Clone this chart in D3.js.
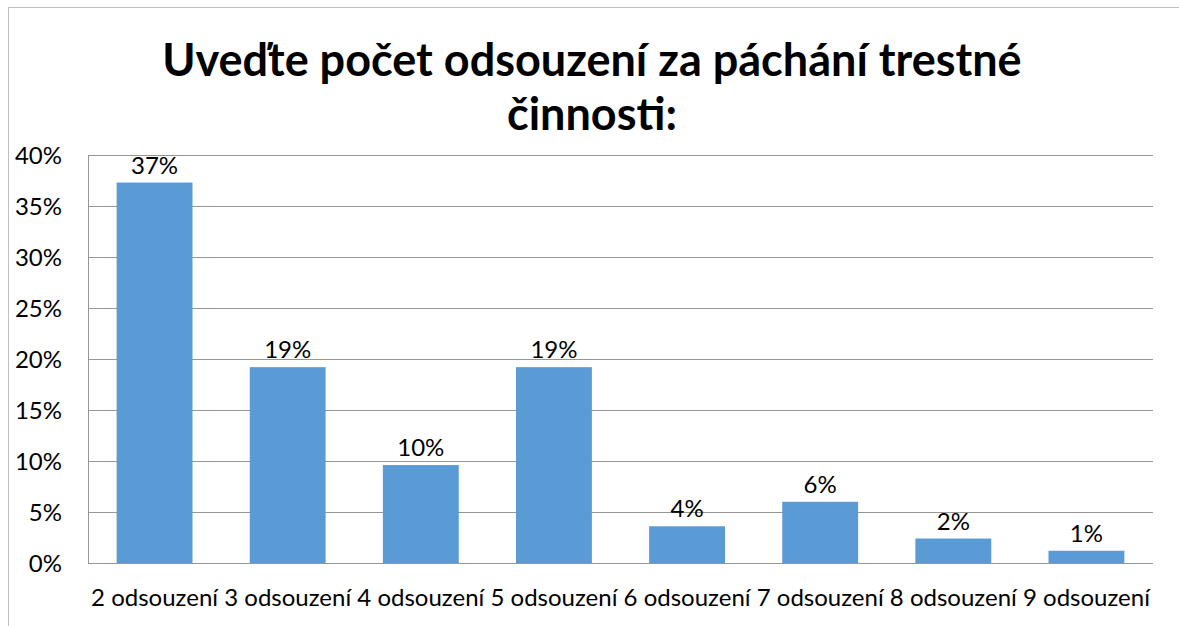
<!DOCTYPE html>
<html>
<head>
<meta charset="UTF-8">
<title>Počet odsouzení</title>
<script src="https://cdn.jsdelivr.net/npm/d3@7/dist/d3.min.js"></script>
<style type="text/css">
body, html {
    margin: 0;
    padding: 0;
    background: #fff;
}
.chart text {
    font-family: Lato, "Liberation Sans", Arial, sans-serif;
    fill: #000;
}
.axis path, .axis line {
    fill: none;
    stroke: #969696;
    shape-rendering: crispEdges;
}
</style>
</head>
<body>
<div class="chart"></div>

<script type="text/javascript">
var categories = ["2 odsouzení", "3 odsouzení", "4 odsouzení", "5 odsouzení",
                  "6 odsouzení", "7 odsouzení", "8 odsouzení", "9 odsouzení"];
var shares     = [0.373, 0.192, 0.096, 0.192, 0.036, 0.060, 0.024, 0.012];
var shareLabels = ["37%", "19%", "10%", "19%", "4%", "6%", "2%", "1%"];
var yTicks     = [0, 0.05, 0.10, 0.15, 0.20, 0.25, 0.30, 0.35, 0.40];
var titleLines = ["Uveďte počet odsouzení za páchání trestné", "činnosti:"];

var W = 1179, H = 626;
var margin = {top: 155, right: 26, bottom: 63, left: 88},
    width  = W - margin.left - margin.right,
    height = H - margin.top - margin.bottom;

var svg = d3.select(".chart")
    .append("svg")
    .attr("width", W)
    .attr("height", H);

// outer frame (cut off right and bottom)
svg.append("rect")
    .attr("x", 8.5)
    .attr("y", 7.5)
    .attr("width", W + 10)
    .attr("height", H + 10)
    .attr("fill", "none")
    .attr("stroke", "#bfbfbf");

// title
var title = svg.append("text")
    .attr("text-anchor", "middle")
    .style("font-weight", "bold")
    .style("font-size", "45px");
title.selectAll("tspan")
    .data(titleLines)
    .enter()
    .append("tspan")
    .attr("x", 592)
    .attr("y", function (d, i) { return 76 + i * 54; })
    .text(function (d) { return d; });

var g = svg.append("g")
    .attr("transform", "translate(" + margin.left + "," + margin.top + ")");

var x = d3.scaleBand()
    .domain(categories)
    .range([0, width])
    .paddingInner(0.43)
    .paddingOuter(0.215);

var y = d3.scaleLinear()
    .domain([0, 0.4])
    .range([height, 0]);

// gridlines
g.append("g")
    .attr("class", "axis grid")
    .call(d3.axisLeft(y).tickValues(yTicks).tickSize(-width).tickFormat(""))
    .call(function (s) { s.select(".domain").remove(); });

// y axis
g.append("g")
    .attr("class", "axis y")
    .call(d3.axisLeft(y).tickValues(yTicks).tickSize(0).tickPadding(26)
        .tickFormat(d3.format(".0%")))
    .selectAll("text")
    .style("font-size", "24px")
    .attr("dy", "0.35em");

// bars
g.selectAll(".bar")
    .data(shares)
    .enter()
    .append("rect")
    .attr("class", "bar")
    .attr("fill", "#5b9bd5")
    .attr("x", function (d, i) { return x(categories[i]); })
    .attr("width", x.bandwidth())
    .attr("y", function (d) { return y(d); })
    .attr("height", function (d) { return height - y(d); });

// x axis (drawn after bars so the baseline sits on top)
var xg = g.append("g")
    .attr("class", "axis x")
    .attr("transform", "translate(0," + height + ")")
    .call(d3.axisBottom(x).tickSize(0).tickPadding(26));
xg.selectAll("text")
    .style("font-size", "24px")
    .attr("dy", "0.71em");
xg.select(".domain").attr("d", "M0,0.5H" + width);

// value labels
g.selectAll(".val")
    .data(shares)
    .enter()
    .append("text")
    .attr("class", "val")
    .attr("text-anchor", "middle")
    .style("font-size", "24px")
    .attr("x", function (d, i) { return x(categories[i]) + x.bandwidth() / 2; })
    .attr("y", function (d) { return y(d) - 9; })
    .text(function (d, i) { return shareLabels[i]; });
</script>
</body>
</html>
